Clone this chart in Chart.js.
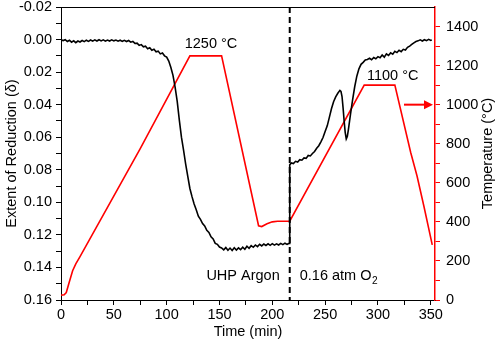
<!DOCTYPE html>
<html><head><meta charset="utf-8">
<script src="https://cdn.jsdelivr.net/npm/chart.js@4"></script>
<style>html,body{margin:0;padding:0;background:#fff;}#wrap{width:498px;height:346px;position:relative;}</style>
</head><body><div id="wrap"><canvas id="c" width="498" height="346"></canvas></div>
<script>
// ---- tick labels ----
const timeTicks = [0, 50, 100, 150, 200, 250, 300, 350];
const deltaTicks = [-0.02, 0.00, 0.02, 0.04, 0.06, 0.08, 0.10, 0.12, 0.14, 0.16];
const deltaLabels = ['-0.02','0.00','0.02','0.04','0.06','0.08','0.10','0.12','0.14','0.16'];
const tempTicks = [0, 200, 400, 600, 800, 1000, 1200, 1400];

// ---- extent of reduction (black) ----
const reductionTime = [0,2,4,6,8,10,12,14,16,18,20,22,24,26,28,30,32,34,36,38,40,42,44,46,48,50,52,54,56,58,60,62,64,66,68,70,72,74,76,78,80,82,84,86,88,90,92,94,96,98,100,102,104,106,108,110,112,114,116,118,120,122,124,126,128,130,132,134,136,138,140,142,144,146,148,150,152,154,156,158,160,162,164,166,168,170,172,174,176,178,180,182,184,186,188,190,192,194,196,198,200,202,204,206,208,210,212,214,216,216.5,218,220,222,224,226,228,230,232,234,236,238,240,242,244,246,248,250,252,254,256,258,260,262,264,265,266,267,268,269,270,271,272,274,276,278,280,282,284,286,288,290,292,294,296,298,300,302,304,306,308,310,312,314,316,318,320,322,324,326,328,330,332,334,336,338,340,342,344,346,348,350,351];
const reductionDelta = [0.0002,0.0006,0.0001,0.0012,0.0004,0.0016,0.0008,0.0019,0.0009,0.0015,0.0006,0.0013,0.0004,0.0011,0.0003,0.0010,0.0002,0.0009,0.0001,0.0008,0.0002,0.0010,0.0003,0.0009,0.0002,0.0008,0.0003,0.0010,0.0004,0.0011,0.0005,0.0012,0.0006,0.0016,0.0012,0.0024,0.0022,0.0036,0.0031,0.0045,0.0041,0.0056,0.0050,0.0066,0.0060,0.0075,0.0071,0.0088,0.0083,0.0100,0.0108,0.0132,0.0172,0.0220,0.0292,0.0380,0.0495,0.0600,0.0680,0.0765,0.0840,0.0915,0.0965,0.1010,0.1045,0.1085,0.1105,0.1130,0.1145,0.1172,0.1185,0.1212,0.1225,0.1252,0.1258,0.1275,0.1280,0.1292,0.1278,0.1295,0.1281,0.1296,0.1279,0.1293,0.1280,0.1291,0.1276,0.1288,0.1270,0.1282,0.1266,0.1276,0.1262,0.1272,0.1258,0.1268,0.1256,0.1265,0.1255,0.1264,0.1254,0.1263,0.1255,0.1262,0.1252,0.1260,0.1251,0.1258,0.1252,0.0770,0.0758,0.0762,0.0748,0.0752,0.0738,0.0741,0.0727,0.0730,0.0712,0.0715,0.0700,0.0688,0.0668,0.0652,0.0628,0.0602,0.0565,0.0530,0.0478,0.0425,0.0382,0.0352,0.0330,0.0312,0.0318,0.0350,0.0420,0.0500,0.0570,0.0610,0.0595,0.0555,0.0460,0.0370,0.0290,0.0225,0.0180,0.0152,0.0140,0.0125,0.0122,0.0115,0.0124,0.0110,0.0118,0.0105,0.0112,0.0095,0.0108,0.0088,0.0098,0.0082,0.0090,0.0072,0.0080,0.0066,0.0074,0.0060,0.0064,0.0048,0.0040,0.0030,0.0020,0.0012,0.0008,0.0002,0.0009,0.0001,0.0007,-0.0001,0.0005,0.0002];

// ---- temperature (red) ----
const tempTime  = [0, 3, 5, 8, 11, 14, 18, 75, 122, 152, 187, 190, 195, 200, 205, 216.5, 287, 316, 331, 337, 343.5, 351.4];
const tempValue = [25, 27, 38, 95, 150, 185, 222, 775, 1250, 1250, 380, 376, 390, 400, 403, 404, 1100, 1100, 755, 635, 480, 282];

const switchTime = 216.5;
const arrowTemp = 1000;

const FONT = "'Liberation Sans', Arial, sans-serif";
const FS = 14.5;

const reductionPts = reductionTime.map((t, i) => ({x: t, y: reductionDelta[i]}));
const tempPts = tempTime.map((t, i) => ({x: t, y: tempValue[i]}));

function range(a, b, s) { const r = []; for (let v = a; v <= b + 1e-9; v += s) r.push(+v.toFixed(4)); return r; }
function noPad(s) { s.paddingTop = 0; s.paddingBottom = 0; s.paddingLeft = 0; s.paddingRight = 0; }

const overlay = {
  id: 'overlay',
  afterDatasetsDraw(chart) {
    const ctx = chart.ctx, ca = chart.chartArea;
    const x = chart.scales.x, y1 = chart.scales.y1;
    ctx.save();
    // top border
    ctx.strokeStyle = '#000'; ctx.lineWidth = 1;
    ctx.beginPath(); ctx.moveTo(ca.left, ca.top + 0.5); ctx.lineTo(ca.right, ca.top + 0.5); ctx.stroke();
    // dashed switch line
    const sx = x.getPixelForValue(switchTime);
    ctx.setLineDash([6, 4]); ctx.lineWidth = 2;
    ctx.beginPath(); ctx.moveTo(sx, ca.top); ctx.lineTo(sx, ca.bottom); ctx.stroke();
    ctx.setLineDash([]);
    // arrow
    const ay = y1.getPixelForValue(arrowTemp);
    const ax0 = ca.right - 31, ax1 = ca.right - 2;
    ctx.strokeStyle = '#ff0000'; ctx.fillStyle = '#ff0000'; ctx.lineWidth = 2;
    ctx.beginPath(); ctx.moveTo(ax0, ay); ctx.lineTo(ax1 - 7, ay); ctx.stroke();
    ctx.beginPath(); ctx.moveTo(ax1, ay); ctx.lineTo(ax1 - 9, ay - 4.5); ctx.lineTo(ax1 - 9, ay + 4.5); ctx.closePath(); ctx.fill();
    // annotations
    ctx.fillStyle = '#000';
    ctx.font = FS + 'px ' + FONT;
    ctx.textBaseline = 'middle';
    ctx.textAlign = 'center';
    ctx.fillText('1250 °C', x.getPixelForValue(142), y1.getPixelForValue(1312));
    ctx.fillText('1100 °C', x.getPixelForValue(314), y1.getPixelForValue(1147));
    ctx.textAlign = 'right';
    ctx.fillText('UHP Argon', sx - 10, ca.bottom - 24);
    ctx.textAlign = 'left';
    const t1 = '0.16 atm O';
    const lx = sx + 10, ly = ca.bottom - 24;
    ctx.fillText(t1, lx, ly);
    const w = ctx.measureText(t1).width;
    ctx.font = (FS * 0.7) + 'px ' + FONT;
    ctx.fillText('2', lx + w + 0.5, ly + 5);
    // right axis title (reads bottom-to-top)
    ctx.font = FS + 'px ' + FONT;
    ctx.textAlign = 'center';
    ctx.translate(488, (ca.top + ca.bottom) / 2);
    ctx.rotate(-Math.PI / 2);
    ctx.fillText('Temperature (°C)', 0, 0);
    ctx.restore();
  }
};

new Chart(document.getElementById('c'), {
  type: 'scatter',
  data: {
    datasets: [
      { label: 'Extent of Reduction', data: reductionPts, yAxisID: 'y', showLine: true,
        borderColor: '#000', borderWidth: 1.6, pointRadius: 0, tension: 0 },
      { label: 'Temperature', data: tempPts, yAxisID: 'y1', showLine: true,
        borderColor: '#ff0000', borderWidth: 1.6, pointRadius: 0, tension: 0 }
    ]
  },
  options: {
    responsive: false, animation: false, devicePixelRatio: 1,
    layout: { padding: { top: 7, left: 0, right: 0, bottom: 0 } },
    plugins: { legend: { display: false }, tooltip: { enabled: false } },
    scales: {
      x: {
        type: 'linear', position: 'bottom', min: 0, max: 354,
        afterBuildTicks: s => { s.ticks = range(0, 350, 25).map(v => ({value: v})); },
        afterFit: s => { s.height = 46; noPad(s); },
        ticks: { color: '#000', font: { family: FONT, size: FS }, padding: 1, maxRotation: 0, autoSkip: false,
          callback: v => (timeTicks.includes(v) ? String(v) : '') },
        grid: { drawOnChartArea: false, drawTicks: true, tickLength: 5, color: '#000', lineWidth: 1 },
        border: { color: '#000', width: 1 },
        title: { display: true, text: 'Time (min)', color: '#000', font: { family: FONT, size: FS }, padding: { top: 0, bottom: 5 } }
      },
      y: {
        type: 'linear', position: 'left', min: -0.02, max: 0.16, reverse: true,
        afterBuildTicks: s => { s.ticks = range(-0.02, 0.16, 0.01).map(v => ({value: v})); },
        afterFit: s => { s.width = 61; noPad(s); },
        ticks: { color: '#000', font: { family: FONT, size: FS }, padding: 4, autoSkip: false,
          callback: v => { const i = deltaTicks.findIndex(d => Math.abs(d - v) < 1e-6); return i >= 0 ? deltaLabels[i] : ''; } },
        grid: { drawOnChartArea: false, drawTicks: true, tickLength: 5, color: '#000', lineWidth: 1 },
        border: { color: '#000', width: 1 },
        title: { display: true, text: 'Extent of Reduction (δ)', color: '#000', font: { family: FONT, size: FS }, padding: { top: 3, bottom: 0 } }
      },
      y1: {
        type: 'linear', position: 'right', min: 0, max: 1500,
        afterBuildTicks: s => { s.ticks = range(0, 1400, 100).map(v => ({value: v})); },
        afterFit: s => { s.width = 63; noPad(s); },
        ticks: { color: '#000', font: { family: FONT, size: FS }, padding: 6, autoSkip: false,
          callback: v => (tempTicks.includes(v) ? String(v) : '') },
        grid: { drawOnChartArea: false, drawTicks: true, tickLength: 5, color: '#ff0000', lineWidth: 1 },
        border: { color: '#ff0000', width: 1.5 },
        title: { display: false }
      }
    }
  },
  plugins: [overlay]
});
</script>
</body></html>
